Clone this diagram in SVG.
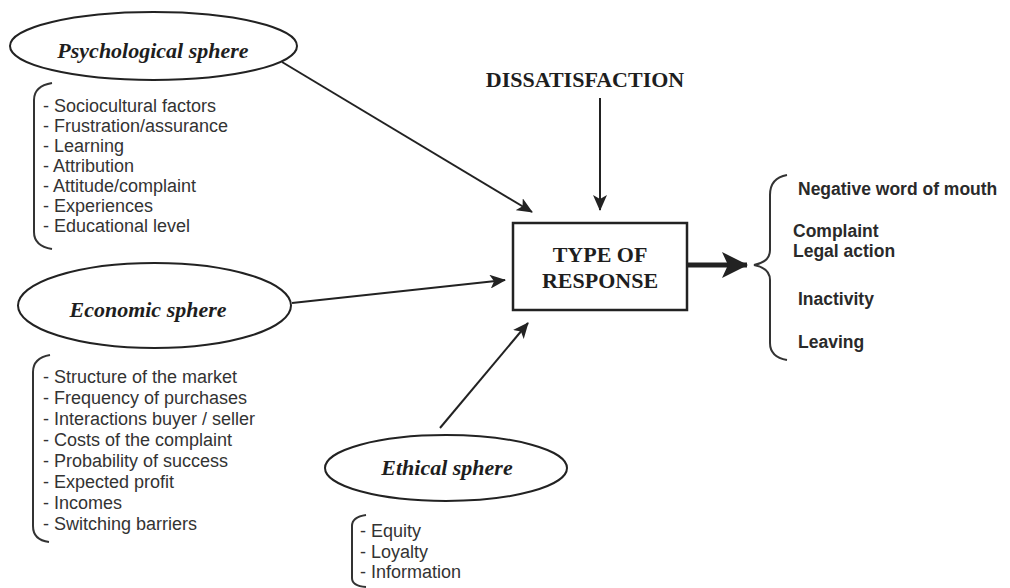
<svg xmlns="http://www.w3.org/2000/svg" width="1010" height="588" viewBox="0 0 1010 588">
<style>
.ell{fill:#fff;stroke:#222;stroke-width:2}
.sph{font-family:"Liberation Serif",serif;font-style:italic;font-weight:bold;font-size:22px;fill:#1e1e1e;text-anchor:middle}
.cap{font-family:"Liberation Serif",serif;font-weight:bold;font-size:22px;fill:#1e1e1e;text-anchor:middle}
.lst{font-family:"Liberation Sans",Arial,sans-serif;font-size:18px;fill:#333}
.out{font-family:"Liberation Sans",Arial,sans-serif;font-weight:bold;font-size:17.5px;fill:#2a2a2a}
.brk{fill:none;stroke:#333;stroke-width:2}
.con{fill:none;stroke:#222;stroke-width:2}
</style>
<defs>
<marker id="ah" markerUnits="userSpaceOnUse" markerWidth="16" markerHeight="14" refX="15" refY="7" orient="auto">
<path d="M0,0 L16,7 L0,14 L4,7 z" fill="#222"/>
</marker>
<marker id="ahb" markerUnits="userSpaceOnUse" markerWidth="26" markerHeight="26" refX="25" refY="13" orient="auto">
<path d="M0,0 L26,13 L0,26 L6,13 z" fill="#222"/>
</marker>
</defs>
<g id="connectors">
<line class="con" x1="282" y1="62" x2="532" y2="212" marker-end="url(#ah)"/>
<line class="con" x1="600" y1="98" x2="600" y2="210" marker-end="url(#ah)"/>
<line class="con" x1="292" y1="303" x2="505" y2="280" marker-end="url(#ah)"/>
<line class="con" x1="440" y1="428" x2="528" y2="323" marker-end="url(#ah)"/>
<line x1="687" y1="265" x2="747" y2="265" stroke="#222" stroke-width="5" marker-end="url(#ahb)"/>
</g>
<g id="psychological">
<ellipse class="ell" cx="153.5" cy="46" rx="143.5" ry="34"/>
<text class="sph" x="153" y="58">Psychological sphere</text>
<path class="brk" d="M52,83 Q34,86 34,100 L34,232 Q34,246 52,249"/>
<text class="lst" x="43" y="112">- Sociocultural factors</text>
<text class="lst" x="43" y="132">- Frustration/assurance</text>
<text class="lst" x="43" y="152">- Learning</text>
<text class="lst" x="43" y="172">- Attribution</text>
<text class="lst" x="43" y="192">- Attitude/complaint</text>
<text class="lst" x="43" y="212">- Experiences</text>
<text class="lst" x="43" y="232">- Educational level</text>
</g>
<g id="economic">
<ellipse class="ell" cx="154.5" cy="305.5" rx="136.5" ry="42.5"/>
<text class="sph" x="148" y="317">Economic sphere</text>
<path class="brk" d="M50,355 Q33,358 33,372 L33,526 Q33,540 49,542"/>
<text class="lst" x="43" y="383">- Structure of the market</text>
<text class="lst" x="43" y="404">- Frequency of purchases</text>
<text class="lst" x="43" y="425">- Interactions buyer / seller</text>
<text class="lst" x="43" y="446">- Costs of the complaint</text>
<text class="lst" x="43" y="467">- Probability of success</text>
<text class="lst" x="43" y="488">- Expected profit</text>
<text class="lst" x="43" y="509">- Incomes</text>
<text class="lst" x="43" y="530">- Switching barriers</text>
</g>
<g id="ethical">
<ellipse class="ell" cx="446" cy="468" rx="121" ry="33"/>
<text class="sph" x="447" y="475">Ethical sphere</text>
<path class="brk" d="M366,515 Q352,517 352,526 L352,578 Q352,586 366,587"/>
<text class="lst" x="360" y="537">- Equity</text>
<text class="lst" x="360" y="558">- Loyalty</text>
<text class="lst" x="360" y="578">- Information</text>
</g>
<g id="dissatisfaction">
<text class="cap" x="585" y="87">DISSATISFACTION</text>
</g>
<g id="response">
<rect x="513" y="223" width="174" height="87" fill="#fff" stroke="#222" stroke-width="2.5"/>
<text class="cap" x="600" y="262">TYPE OF</text>
<text class="cap" x="600" y="288">RESPONSE</text>
</g>
<g id="outcomes">
<path class="brk" d="M787,175 Q770,178 770,195 L770,250 Q770,262 754,265 Q770,268 770,280 L770,343 Q770,357 787,360"/>
<text class="out" x="798" y="195">Negative word of mouth</text>
<text class="out" x="793" y="237">Complaint</text>
<text class="out" x="793" y="257">Legal action</text>
<text class="out" x="798" y="305">Inactivity</text>
<text class="out" x="798" y="348">Leaving</text>
</g>
</svg>
